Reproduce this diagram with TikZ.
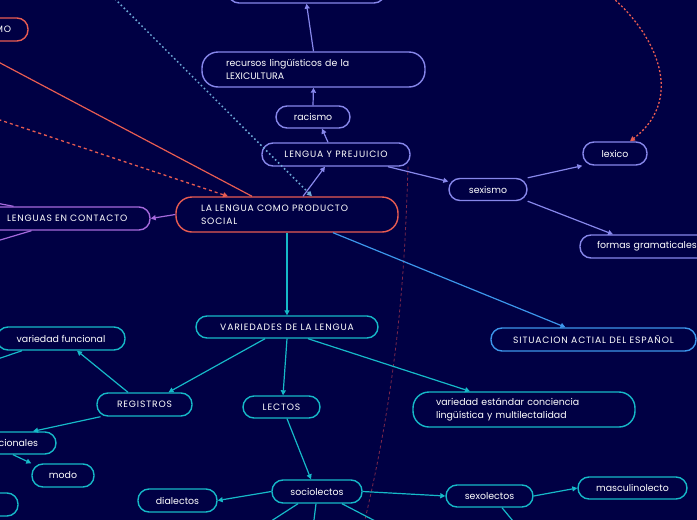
\documentclass[tikz,border=0pt]{standalone}
\usepackage{fontspec}
\setmainfont{Poppins}
\newfontfamily\capsf[LetterSpace=9]{Poppins}
\usetikzlibrary{arrows.meta,calc}
\definecolor{bg}{RGB}{0,0,68}
\definecolor{cpur}{RGB}{135,135,235}
\definecolor{cred}{RGB}{232,92,82}
\definecolor{cvio}{RGB}{165,105,220}
\definecolor{cteal}{RGB}{22,185,200}
\definecolor{cblue}{RGB}{60,150,235}
\definecolor{cdot}{RGB}{110,170,215}
\definecolor{cmar}{RGB}{125,40,75}
\begin{document}
\begin{tikzpicture}[x=1pt,y=-1pt,
  box/.style={draw, line width=1.4pt, rounded corners=11pt, text=white,
    font=\fontsize{9.4}{13}\selectfont, inner sep=0pt, align=center},
  tall/.style={rounded corners=16pt},
  caps/.style={font=\capsf\fontsize{9.2}{13}\selectfont},
  arr/.style={line width=1.2pt,-{Triangle[length=5pt,width=5pt]}},
  ln/.style={line width=1.2pt}]
\useasboundingbox (0,0) rectangle (697,520);
\fill[bg] (0,0) rectangle (697,520);
\clip (0,0) rectangle (697,520);

% nodes
\node[box, draw=cpur, minimum width=157pt, minimum height=24pt] (ntop) at (306.5,-9) {};
\node[box, draw=cred, minimum height=23pt, text width=54pt, inner xsep=17pt, align=right, caps] (mo) at (-16,29.5) {MO};
\node[box, tall, draw=cpur, minimum height=35pt, text width=175pt, inner xsep=24pt, align=left] (recursos) at (313.5,69.5) {recursos lingüísticos de la\\LEXICULTURA};
\node[box, draw=cpur, minimum width=74pt, minimum height=22pt] (racismo) at (313,117) {racismo};
\node[box, draw=cpur, minimum width=148pt, minimum height=23pt, caps] (lyp) at (336,154.5) {LENGUA Y PREJUICIO};
\node[box, draw=cpur, minimum width=64pt, minimum height=23pt] (lexico) at (615,153.5) {lexico};
\node[box, draw=cpur, minimum width=78pt, minimum height=22pt] (sexismo) at (488,189.5) {sexismo};
\node[box, draw=cpur, minimum height=23pt, text width=106pt, inner xsep=17pt, align=left] (formas) at (650,246.5) {formas gramaticales};
\node[box, draw=cblue, minimum width=205pt, minimum height=23pt, caps] (situacion) at (593.5,339.5) {SITUACION ACTIAL DEL ESPAÑOL};
\node[box, tall, draw=cred, minimum height=35pt, text width=172pt, inner xsep=25pt, align=left, caps] (lalengua) at (287,214.5) {LA LENGUA COMO PRODUCTO\\SOCIAL};
\node[box, draw=cvio, minimum height=23pt, text width=121pt, inner xsep=22pt, align=left, caps] (lenguas) at (67.5,218.5) {LENGUAS EN CONTACTO};
\node[box, draw=cteal, minimum width=182pt, minimum height=22pt, caps] (variedades) at (287,327) {VARIEDADES DE LA LENGUA};
\node[box, draw=cteal, minimum width=128pt, minimum height=23pt] (funcional) at (61,338.5) {variedad funcional};
\node[box, draw=cteal, minimum width=95pt, minimum height=23pt, caps] (registros) at (144.5,404.5) {REGISTROS};
\node[box, draw=cteal, minimum height=22pt, text width=70pt, inner xsep=18pt, align=right] (cionales) at (3,443) {cionales};
\node[box, draw=cteal, minimum width=62pt, minimum height=23pt] (modo) at (63,475.5) {modo};
\node[box, draw=cteal, minimum width=58pt, minimum height=23pt] (blnode) at (-11,504.5) {};
\node[box, draw=cteal, minimum width=79pt, minimum height=23pt] (dialectos) at (177.5,500.5) {dialectos};
\node[box, draw=cteal, minimum width=77pt, minimum height=22pt, caps] (lectos) at (281.5,407) {LECTOS};
\node[box, draw=cteal, minimum width=90pt, minimum height=23pt] (sociolectos) at (317,491.5) {sociolectos};
\node[box, draw=cteal, minimum width=87pt, minimum height=22pt] (sexolectos) at (489.5,496) {sexolectos};
\node[box, draw=cteal, minimum width=109pt, minimum height=22pt] (masculino) at (632.5,488) {masculinolecto};
\node[box, tall, draw=cteal, minimum height=35pt, text width=176pt, inner xsep=23pt, align=left] (estandar) at (524,409.5) {variedad estándar conciencia\\lingüística y multilectalidad};

% free ends
\coordinate (dotstart) at (100,-16);
\coordinate (redstart) at (-30,47);
\coordinate (dashstart) at (-30,110);
\coordinate (curvstart) at (603,-10);
\coordinate (lcA) at (-20,200);
\coordinate (lcB) at (-20,246);
\coordinate (vfA) at (-20,365);
\coordinate (soA) at (241.75,540);
\coordinate (soB) at (311.5,540);
\coordinate (soC) at (411.75,540);
\coordinate (sxA) at (528.7,540);
\coordinate (marend) at (360,540);

% purple branch
\draw[arr, cpur] (recursos.north) -- (ntop.south);
\draw[arr, cpur] (racismo.north) -- (recursos.south);
\draw[arr, cpur] ([xshift=-8pt]lyp.north) -- ([xshift=9pt]racismo.south);
\draw[arr, cpur] ([xshift=16pt]lalengua.north) -- ([xshift=-11pt]lyp.south);
\draw[arr, cpur] ([xshift=52pt]lyp.south) -- ([yshift=8pt]sexismo.west);
\draw[arr, cpur] (sexismo.north east) -- (lexico.south west);
\draw[arr, cpur] (sexismo.south east) -- ([xshift=-37pt]formas.north);

% cross links
\draw[cred, line width=1.3pt, dash pattern=on 2pt off 2pt, -{Triangle[length=5pt,width=5pt]}]
  (curvstart) .. controls (650,25) and (690,95) .. ([xshift=15pt]lexico.north);
\draw[cdot, line width=1.5pt, dash pattern=on 1.6pt off 2.6pt, -{Triangle[length=5pt,width=5pt]}]
  (dotstart) -- ([xshift=25pt]lalengua.north);
\draw[ln, cred] (redstart) -- ([xshift=-35pt]lalengua.north);
\draw[cred, line width=1.3pt, dash pattern=on 3pt off 3pt, -{Triangle[length=5pt,width=5pt]}]
  (dashstart) -- ([xshift=-59pt]lalengua.north);
\draw[cmar, line width=0.8pt, dash pattern=on 3pt off 2.5pt]
  ([xshift=72pt]lyp.south) .. controls (405,260) and (400,380) .. (marend);

% violet branch
\draw[arr, cvio] (lalengua.west) -- (lenguas.east);
\draw[ln, cvio] ([xshift=-54pt]lenguas.north) -- (lcA);
\draw[ln, cvio] ([xshift=-36pt]lenguas.south) -- (lcB);

% blue
\draw[arr, cblue] ([xshift=46pt]lalengua.south) -- ([xshift=-28pt]situacion.north);

% teal branch
\draw[arr, cteal] (lalengua.south) -- (variedades.north);
\draw[arr, cteal] ([xshift=-22pt]variedades.south) -- ([xshift=24pt]registros.north);
\draw[arr, cteal] (variedades.south) -- ([xshift=1.5pt]lectos.north);
\draw[arr, cteal] ([xshift=21pt]variedades.south) -- ([xshift=-54pt]estandar.north);
\draw[arr, cteal] ([xshift=-16.5pt]registros.north) -- ([xshift=16pt]funcional.south);
\draw[ln, cteal] ([xshift=-39pt]funcional.south) -- (vfA);
\draw[arr, cteal] ([xshift=-44pt]registros.south) -- ([xshift=30pt]cionales.north);
\draw[arr, cteal] ([xshift=10pt]cionales.south) -- (modo.north west);
\draw[arr, cteal] ([xshift=5.5pt]lectos.south) -- ([xshift=-6pt]sociolectos.north);
\draw[arr, cteal] (sociolectos.west) -- (dialectos.east);
\draw[arr, cteal] (sociolectos.east) -- (sexolectos.west);
\draw[arr, cteal] (sexolectos.east) -- (masculino.west);
\draw[ln, cteal] ([xshift=-19pt]sociolectos.south) -- (soA);
\draw[ln, cteal] ([xshift=-1pt]sociolectos.south) -- (soB);
\draw[ln, cteal] ([xshift=25pt]sociolectos.south) -- (soC);
\draw[ln, cteal] ([xshift=12.5pt]sexolectos.south) -- (sxA);
\end{tikzpicture}
\end{document}
